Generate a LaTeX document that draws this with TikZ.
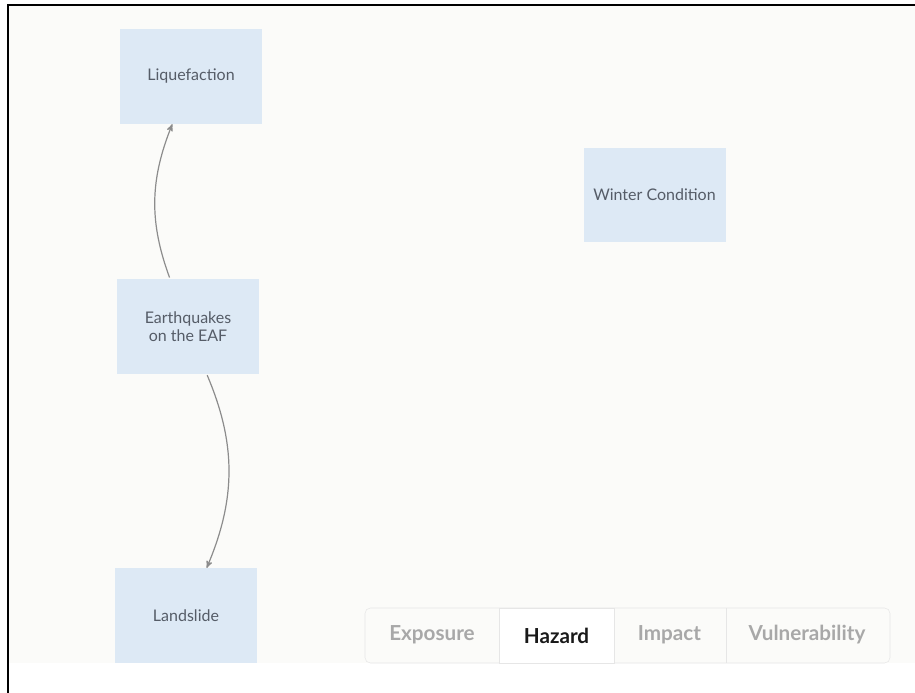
\documentclass[tikz,border=0pt]{standalone}
\usepackage{fontspec}
\setmainfont{Lato}
\usetikzlibrary{arrows,positioning}
\definecolor{boxblue}{HTML}{DDE9F5}
\definecolor{boxtext}{HTML}{555C67}
\definecolor{pagebg}{HTML}{FBFBF9}
\definecolor{tabline}{HTML}{E6E6E6}
\definecolor{tabgray}{HTML}{A8A8A8}

\begin{document}
\begin{tikzpicture}[x=0.75pt,y=-0.75pt,
    hazard/.style={rectangle,fill=boxblue,text=boxtext,align=center,
        minimum width=106.5pt,minimum height=71pt,inner sep=0pt,
        font=\fontsize{12}{13.5}\selectfont},
    link/.style={->,draw=gray!90,line width=0.9pt,shorten <=1pt,>=stealth'},
    tab/.style={text=tabgray,font=\fontsize{15.5}{17}\selectfont\bfseries}]
       \useasboundingbox (0,0) rectangle (915,693);
       \fill[pagebg] (9,6) rectangle (915,663);
       \draw[line width=1.5pt] (8,693) -- (8,5) -- (915,5);

       \node[hazard] (liquefaction) at (191,76.5) {Liquefaction};
       \node[hazard] (earthquakes) [below=116pt of liquefaction, xshift=-2.25pt] {Earthquakes\\on the EAF};
       \node[hazard] (landslide) [below=145.5pt of earthquakes, xshift=-1.5pt] {Landslide};
       \node[hazard] (winter) at (654.5,195) {Winter Condition};

       \draw [link] ([xshift=-13.5pt]earthquakes.north) to [bend left=21] ([xshift=-14pt]liquefaction.south);
       \draw [link] ([xshift=14pt]earthquakes.south) to [bend left=23] ([xshift=15.5pt]landslide.north);

       % view switcher
       \node[draw=tabline,fill=pagebg,rounded corners=4pt,minimum width=393.75pt,minimum height=41.25pt,inner sep=0pt] (tabbar) at (627.5,635.5) {};
       \node[draw=tabline,fill=white,minimum width=86.25pt,minimum height=41.25pt,inner sep=0pt] (hazardtab) at (556.5,635.5) {};
       \draw[tabline] (726,608) -- (726,663);
       \node[tab] (exposure) at (432,635) {Exposure};
       \node[tab,text=black!90] (hazard) at (hazardtab) {Hazard};
       \node[tab] (impact) at (669.5,635) {Impact};
       \node[tab] (vulnerability) at (807,635) {Vulnerability};
    \end{tikzpicture}
\end{document}
